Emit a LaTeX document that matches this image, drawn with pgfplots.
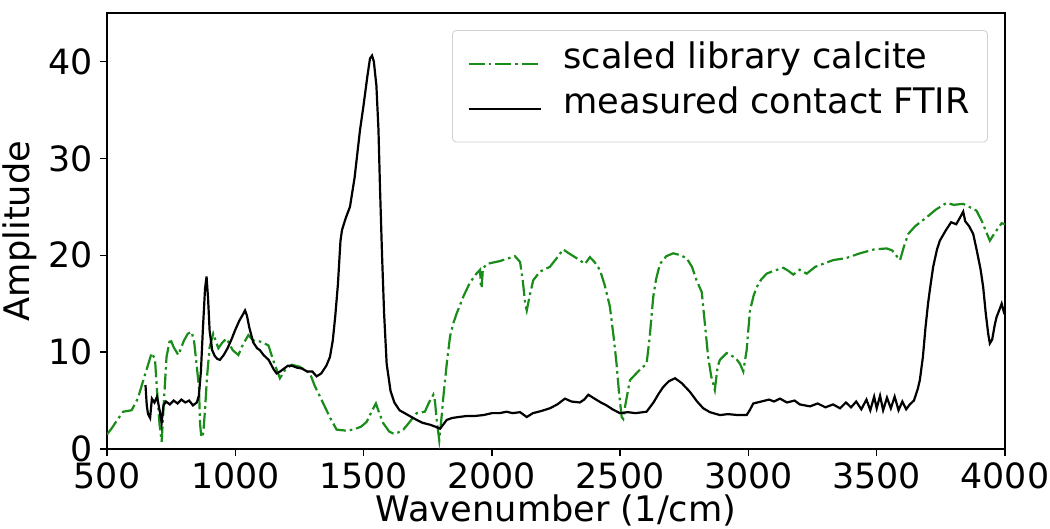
\documentclass[border=0pt]{standalone}
\usepackage{pgfplots}
\pgfplotsset{compat=1.18}
\usepackage{fontspec}
\setmainfont{DejaVu Sans}
\definecolor{mplgreen}{RGB}{25,140,25}
\begin{document}
\begin{tikzpicture}
\begin{axis}[
  name=ax,
  scale only axis,
  width=449pt, height=218pt,
  xmin=500, xmax=4000, ymin=0, ymax=45,
  xtick={500,1000,...,4000},
  ytick={0,10,20,30,40},
  tick align=outside, tick pos=left,
  major tick length=3.5pt,
  axis line style={line width=0.7pt},
  every tick/.style={black, line width=0.7pt},
  /pgf/number format/assume math mode=true,
  /pgf/number format/1000 sep={},
  scaled x ticks=false,
  tick label style={font=\fontsize{17.4}{20.9}\selectfont},
  label style={font=\fontsize{17.6}{21.1}\selectfont},
  xlabel={Wavenumber (1/cm)},
  ylabel={Amplitude},
  xlabel style={yshift=4pt},
  ylabel style={yshift=-1pt},
  legend cell align=left,
  legend image code/.code={\draw[#1] (0pt,0pt) -- (36pt,0pt);},
  legend style={at={(0.981,0.961)}, anchor=north east,
    draw=black!18, rounded corners=2pt, fill=white,
    font=\fontsize{17.6}{21.1}\selectfont,
    inner xsep=7.5pt, inner ysep=8.5pt, row sep=6pt,
    /tikz/every odd column/.append style={column sep=9.5pt},
    nodes={inner xsep=1.5pt, inner ysep=3.2pt, text height=0.75em, text depth=0.25em}},
]
\addplot[mplgreen, line width=1.1pt, dash pattern=on 8pt off 2pt on 1.3pt off 2pt] coordinates {
(500,1.5)(520,2.2)(540,3.0)(563,3.85)(596,4.0)(620,5.2)(645,7.4)(674,9.9)(687,9.3)(695,6.0)(705,2.5)(713,0.75)(722,5.0)(732,9.5)(746,11.4)(760,10.5)(778,9.7)(800,11.2)(815,11.9)(830,12.1)(840,11.0)(850,8.5)(858,6.5)(863,2.5)(868,1.2)(875,1.6)(882,4.0)(890,7.5)(900,10.5)(914,11.9)(934,10.4)(950,11.0)(966,11.4)(990,10.2)(1012,9.7)(1030,10.8)(1051,11.75)(1070,11.2)(1096,11.1)(1129,10.7)(1150,9.0)(1174,7.3)(1195,8.2)(1220,8.7)(1250,8.5)(1270,8.2)(1291,7.8)(1310,6.5)(1343,4.7)(1370,3.2)(1395,2.0)(1430,1.9)(1460,2.0)(1490,2.3)(1512,2.8)(1530,3.8)(1548,4.7)(1560,3.8)(1577,2.65)(1600,1.8)(1616,1.6)(1635,1.7)(1655,2.0)(1680,2.8)(1707,3.7)(1739,3.85)(1755,4.8)(1772,5.6)(1778,5.0)(1785,3.0)(1795,0.9)(1803,3.0)(1811,5.4)(1825,9.0)(1837,11.6)(1850,13.0)(1863,14.0)(1890,15.8)(1915,17.2)(1940,18.1)(1954,18.5)(1957,17.0)(1960,16.6)(1965,18.6)(1980,19.1)(2032,19.4)(2090,19.9)(2110,19.3)(2120,17.5)(2130,15.0)(2136,14.3)(2145,15.5)(2161,17.4)(2187,18.3)(2226,18.8)(2250,19.6)(2278,20.6)(2300,20.2)(2330,19.7)(2363,19.1)(2382,19.8)(2400,19.3)(2421,18.5)(2440,16.9)(2460,14.7)(2475,11.5)(2486,8.8)(2495,6.0)(2506,3.3)(2512,3.1)(2520,4.5)(2538,7.1)(2570,8.0)(2603,8.8)(2615,11.5)(2629,15.7)(2640,17.5)(2655,19.1)(2680,19.9)(2707,20.2)(2735,20.0)(2759,19.7)(2780,18.8)(2798,17.4)(2818,16.2)(2830,13.0)(2843,9.5)(2855,7.5)(2869,6.1)(2880,8.5)(2889,9.2)(2915,9.9)(2950,9.4)(2967,8.8)(2980,8.0)(2993,10.2)(3006,14.3)(3020,15.8)(3032,16.7)(3050,17.5)(3071,18.1)(3100,18.4)(3136,18.7)(3155,18.4)(3175,18.0)(3200,18.5)(3227,18.1)(3260,18.8)(3300,19.2)(3331,19.5)(3380,19.7)(3435,20.2)(3490,20.6)(3539,20.7)(3560,20.5)(3575,20.0)(3591,19.5)(3605,20.8)(3623,22.2)(3650,23.0)(3694,23.9)(3730,24.7)(3772,25.4)(3800,25.2)(3837,25.3)(3860,25.0)(3889,24.6)(3910,23.5)(3930,22.2)(3941,21.5)(3960,22.3)(3987,23.3)(4000,23.2)
};
\addlegendentry{scaled library calcite}
\addplot[black, line width=1.1pt] coordinates {
(650,6.6)(655,4.5)(660,3.6)(668,3.2)(675,5.2)(685,4.8)(695,5.4)(705,4.0)(713,2.7)(720,4.5)(730,4.9)(745,4.6)(760,5.0)(775,4.7)(790,5.1)(805,4.8)(820,5.0)(835,4.5)(850,4.8)(858,5.5)(866,8.0)(874,12.5)(882,16.5)(888,17.8)(894,15.5)(900,12.2)(910,10.2)(920,9.6)(930,9.3)(940,9.2)(955,9.7)(970,10.4)(985,11.3)(1000,12.3)(1015,13.2)(1030,13.9)(1038,14.3)(1045,13.8)(1055,12.5)(1070,11.0)(1085,10.4)(1096,10.2)(1110,9.7)(1130,9.2)(1150,8.2)(1161,7.8)(1175,8.0)(1190,8.3)(1205,8.6)(1220,8.6)(1240,8.4)(1260,8.3)(1280,8.0)(1300,8.0)(1317,7.5)(1335,7.8)(1355,8.6)(1369,9.5)(1380,11.2)(1390,13.8)(1400,17.0)(1410,21.5)(1416,22.6)(1430,23.8)(1447,25.0)(1465,28.0)(1486,32.9)(1500,35.5)(1515,38.5)(1525,40.3)(1533,40.6)(1540,40.0)(1550,37.5)(1558,33)(1564,27)(1572,20)(1580,14)(1590,8.8)(1605,6.0)(1620,4.8)(1640,4.0)(1660,3.7)(1680,3.4)(1707,3.0)(1730,2.7)(1760,2.5)(1780,2.3)(1798,2.1)(1810,2.5)(1824,3.0)(1845,3.2)(1870,3.3)(1900,3.4)(1930,3.4)(1967,3.5)(2000,3.7)(2030,3.7)(2058,3.85)(2080,3.7)(2110,3.8)(2136,3.3)(2160,3.7)(2190,3.9)(2226,4.2)(2255,4.6)(2285,5.2)(2310,4.9)(2343,4.8)(2360,5.1)(2376,5.6)(2400,5.2)(2425,4.8)(2447,4.5)(2470,4.1)(2499,3.7)(2530,3.8)(2560,3.7)(2603,3.85)(2630,4.8)(2650,5.7)(2668,6.4)(2690,7.0)(2714,7.3)(2740,6.8)(2772,5.9)(2800,4.9)(2824,4.2)(2850,3.8)(2889,3.5)(2920,3.6)(2960,3.5)(2993,3.5)(3005,4.0)(3019,4.7)(3050,4.9)(3080,5.1)(3100,4.9)(3123,5.2)(3150,4.8)(3180,5.0)(3200,4.6)(3240,4.4)(3270,4.7)(3300,4.3)(3330,4.6)(3357,4.2)(3380,4.8)(3400,4.3)(3420,4.9)(3440,4.1)(3460,5.1)(3475,4.0)(3490,5.4)(3500,4.2)(3513,5.5)(3525,4.0)(3540,5.3)(3555,4.2)(3570,5.4)(3585,4.0)(3600,4.9)(3615,4.1)(3629,4.6)(3645,5.0)(3660,6.2)(3668,7.1)(3680,9.5)(3690,12.5)(3700,15.0)(3707,16.4)(3720,18.8)(3735,20.6)(3746,21.5)(3770,22.6)(3790,23.4)(3810,23.2)(3825,23.9)(3837,24.5)(3845,23.5)(3860,23.0)(3876,22.2)(3890,20.5)(3905,18.5)(3915,16.7)(3925,14.0)(3935,11.8)(3941,10.9)(3950,11.3)(3960,12.8)(3967,13.6)(3980,14.5)(3987,15.0)(3995,14.2)(4000,14.5)
};
\addlegendentry{measured contact FTIR}
\end{axis}
\pgfresetboundingbox
\path ([xshift=-53.5pt,yshift=-40pt]ax.south west) rectangle ([xshift=22.5pt,yshift=6.5pt]ax.north east);
\end{tikzpicture}
\end{document}
